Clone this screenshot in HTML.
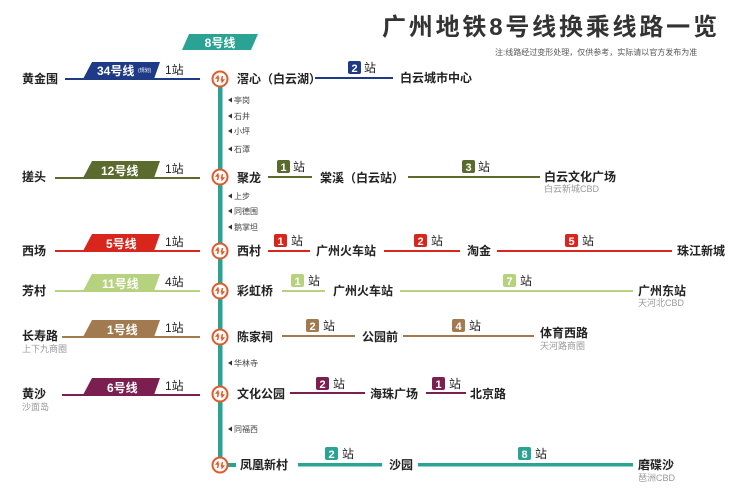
<!DOCTYPE html>
<html><head><meta charset="utf-8"><style>
html,body{margin:0;padding:0;background:#fff}
svg{display:block}
text{font-family:"Liberation Sans","Noto Sans CJK SC",sans-serif}
.n{font-size:12px;font-weight:bold;fill:#222}
.s{font-size:12px;fill:#222}
.sub{font-size:9px;fill:#999}
.sm{font-size:8px;fill:#444}
.pl{font-size:12px;font-weight:bold;fill:#fff}
.bd{font-size:11px;font-weight:bold;fill:#fff}
</style></head><body>
<svg width="740" height="489" viewBox="0 0 740 489" xmlns="http://www.w3.org/2000/svg">
<defs>
<g id="ic"><circle r="7.5" fill="#fff" stroke="#e05a2b" stroke-width="2"/><path d="M-1.5,-3.5 l-2,2.5 h2 l-1,4 M1.5,3.5 l2,-2.5 h-2 l1,-4" stroke="#e05a2b" stroke-width="1.5" fill="none"/></g>
<polygon id="tri" points="0,0 4,-2.5 4,2.5" fill="#333"/>
</defs>
<text x="382" y="35" font-size="24" font-weight="bold" fill="#333" letter-spacing="2.8">广州地铁8号线换乘线路一览</text>
<text x="495" y="55" font-size="8" fill="#555">注:线路经过变形处理，仅供参考，实际请以官方发布为准</text>
<polygon points="182,50 189,34 258,34 251,50" fill="#2aa395"/>
<text x="220" y="47" class="pl" text-anchor="middle">8号线</text>
<rect x="218" y="79" width="4.5" height="386" fill="#2aa395"/>
<rect x="222" y="463" width="14" height="4" fill="#2aa395"/>
<g class="sm">
<use href="#tri" x="228" y="100"/><text x="234" y="103">亭岗</text>
<use href="#tri" x="228" y="116"/><text x="234" y="119">石井</text>
<use href="#tri" x="228" y="131"/><text x="234" y="134">小坪</text>
<use href="#tri" x="228" y="149"/><text x="234" y="152">石潭</text>
<use href="#tri" x="228" y="196"/><text x="234" y="199">上步</text>
<use href="#tri" x="228" y="211"/><text x="234" y="214">同德围</text>
<use href="#tri" x="228" y="227"/><text x="234" y="230">鹅掌坦</text>
<use href="#tri" x="228" y="363"/><text x="234" y="366">华林寺</text>
<use href="#tri" x="228" y="429"/><text x="234" y="432">同福西</text>
</g>
<!-- Row1 -->
<text x="22" y="83" class="n">黄金围</text>
<rect x="65" y="78" width="135" height="2" fill="#1f3a86"/>
<polygon points="83,79 92,62 160,62 154,79" fill="#1f3a86"/>
<text x="97" y="75" class="pl">34号线</text><text x="138" y="72" font-size="5" fill="#fff">(规划)</text>
<text x="165" y="74" class="s">1站</text>
<use href="#ic" x="220" y="79"/>
<text x="237" y="83" class="n">滘心（白云湖）</text>
<rect x="315" y="77" width="78" height="2" fill="#1f3a86"/>
<rect x="348" y="61" width="13" height="13" rx="2" fill="#1f3a86"/><text x="354.5" y="72" class="bd" text-anchor="middle">2</text><text x="364" y="72" class="s">站</text>
<text x="400" y="82" class="n">白云城市中心</text>
<!-- Row2 -->
<text x="22" y="181" class="n">搓头</text>
<rect x="55" y="177" width="145" height="2" fill="#5b6a2d"/>
<polygon points="83,178 92,161 160,161 154,178" fill="#5b6a2d"/>
<text x="101" y="175" class="pl">12号线</text>
<text x="165" y="173" class="s">1站</text>
<use href="#ic" x="220" y="177"/>
<text x="237" y="182" class="n">聚龙</text>
<rect x="268" y="176" width="44" height="2" fill="#5b6a2d"/>
<rect x="277" y="160" width="13" height="13" rx="2" fill="#5b6a2d"/><text x="283.5" y="171" class="bd" text-anchor="middle">1</text><text x="293" y="171" class="s">站</text>
<text x="320" y="182" class="n">棠溪（白云站）</text>
<rect x="408" y="176" width="132" height="2" fill="#5b6a2d"/>
<rect x="462" y="160" width="13" height="13" rx="2" fill="#5b6a2d"/><text x="468.5" y="171" class="bd" text-anchor="middle">3</text><text x="478" y="171" class="s">站</text>
<text x="544" y="181" class="n">白云文化广场</text>
<text x="544" y="192" class="sub">白云新城CBD</text>
<!-- Row3 -->
<text x="22" y="255" class="n">西场</text>
<rect x="55" y="250" width="145" height="2" fill="#d8261c"/>
<polygon points="83,251 92,234 160,234 154,251" fill="#d8261c"/>
<text x="106" y="248" class="pl">5号线</text>
<text x="165" y="246" class="s">1站</text>
<use href="#ic" x="220" y="251"/>
<text x="237" y="255" class="n">西村</text>
<rect x="268" y="250" width="42" height="2" fill="#d8261c"/>
<rect x="274" y="234" width="13" height="13" rx="2" fill="#d8261c"/><text x="280.5" y="245" class="bd" text-anchor="middle">1</text><text x="291" y="245" class="s">站</text>
<text x="316" y="255" class="n">广州火车站</text>
<rect x="384" y="250" width="76" height="2" fill="#d8261c"/>
<rect x="414" y="234" width="13" height="13" rx="2" fill="#d8261c"/><text x="420.5" y="245" class="bd" text-anchor="middle">2</text><text x="431" y="245" class="s">站</text>
<text x="467" y="255" class="n">淘金</text>
<rect x="497" y="250" width="175" height="2" fill="#d8261c"/>
<rect x="565" y="234" width="13" height="13" rx="2" fill="#d8261c"/><text x="571.5" y="245" class="bd" text-anchor="middle">5</text><text x="582" y="245" class="s">站</text>
<text x="677" y="255" class="n">珠江新城</text>
<!-- Row4 -->
<text x="22" y="295" class="n">芳村</text>
<rect x="55" y="290" width="145" height="2" fill="#b6d27e"/>
<polygon points="83,291 92,274 160,274 154,291" fill="#b6d27e"/>
<text x="102" y="288" class="pl">11号线</text>
<text x="165" y="286" class="s">4站</text>
<use href="#ic" x="220" y="291"/>
<text x="237" y="295" class="n">彩虹桥</text>
<rect x="282" y="290" width="43" height="2" fill="#b6d27e"/>
<rect x="291" y="274" width="13" height="13" rx="2" fill="#b6d27e"/><text x="297.5" y="285" class="bd" text-anchor="middle">1</text><text x="308" y="285" class="s">站</text>
<text x="333" y="295" class="n">广州火车站</text>
<rect x="400" y="290" width="233" height="2" fill="#b6d27e"/>
<rect x="503" y="274" width="13" height="13" rx="2" fill="#b6d27e"/><text x="509.5" y="285" class="bd" text-anchor="middle">7</text><text x="520" y="285" class="s">站</text>
<text x="638" y="295" class="n">广州东站</text>
<text x="638" y="306" class="sub">天河北CBD</text>
<!-- Row5 -->
<text x="22" y="340" class="n">长寿路</text>
<text x="22" y="352" class="sub">上下九商圈</text>
<rect x="62" y="336" width="138" height="2" fill="#a27a4f"/>
<polygon points="83,337 92,320 160,320 154,337" fill="#a27a4f"/>
<text x="107" y="334" class="pl">1号线</text>
<text x="165" y="332" class="s">1站</text>
<use href="#ic" x="220" y="337"/>
<text x="237" y="341" class="n">陈家祠</text>
<rect x="282" y="335" width="73" height="2" fill="#a27a4f"/>
<rect x="306" y="319" width="13" height="13" rx="2" fill="#a27a4f"/><text x="312.5" y="330" class="bd" text-anchor="middle">2</text><text x="323" y="330" class="s">站</text>
<text x="362" y="341" class="n">公园前</text>
<rect x="403" y="335" width="131" height="2" fill="#a27a4f"/>
<rect x="452" y="319" width="13" height="13" rx="2" fill="#a27a4f"/><text x="458.5" y="330" class="bd" text-anchor="middle">4</text><text x="469" y="330" class="s">站</text>
<text x="540" y="337" class="n">体育西路</text>
<text x="540" y="349" class="sub">天河路商圈</text>
<!-- Row6 -->
<text x="22" y="398" class="n">黄沙</text>
<text x="22" y="410" class="sub">沙面岛</text>
<rect x="62" y="394" width="138" height="2" fill="#7b1f50"/>
<polygon points="83,395 92,378 160,378 154,395" fill="#7b1f50"/>
<text x="107" y="392" class="pl">6号线</text>
<text x="165" y="390" class="s">1站</text>
<use href="#ic" x="220" y="394"/>
<text x="237" y="398" class="n">文化公园</text>
<rect x="290" y="392" width="75" height="2" fill="#7b1f50"/>
<rect x="316" y="377" width="13" height="13" rx="2" fill="#7b1f50"/><text x="322.5" y="388" class="bd" text-anchor="middle">2</text><text x="333" y="388" class="s">站</text>
<text x="370" y="398" class="n">海珠广场</text>
<rect x="426" y="392" width="40" height="2" fill="#7b1f50"/>
<rect x="432" y="377" width="13" height="13" rx="2" fill="#7b1f50"/><text x="438.5" y="388" class="bd" text-anchor="middle">1</text><text x="449" y="388" class="s">站</text>
<text x="470" y="398" class="n">北京路</text>
<!-- Row7 -->
<use href="#ic" x="220" y="465"/>
<text x="240" y="469" class="n">凤凰新村</text>
<rect x="298" y="463" width="84" height="3.5" fill="#2aa395"/>
<rect x="325" y="447" width="13" height="13" rx="2" fill="#2aa395"/><text x="331.5" y="458" class="bd" text-anchor="middle">2</text><text x="342" y="458" class="s">站</text>
<text x="389" y="469" class="n">沙园</text>
<rect x="418" y="463" width="215" height="3.5" fill="#2aa395"/>
<rect x="518" y="447" width="13" height="13" rx="2" fill="#2aa395"/><text x="524.5" y="458" class="bd" text-anchor="middle">8</text><text x="535" y="458" class="s">站</text>
<text x="638" y="469" class="n">磨碟沙</text>
<text x="638" y="481" class="sub">琶洲CBD</text>
</svg>
</body></html>
